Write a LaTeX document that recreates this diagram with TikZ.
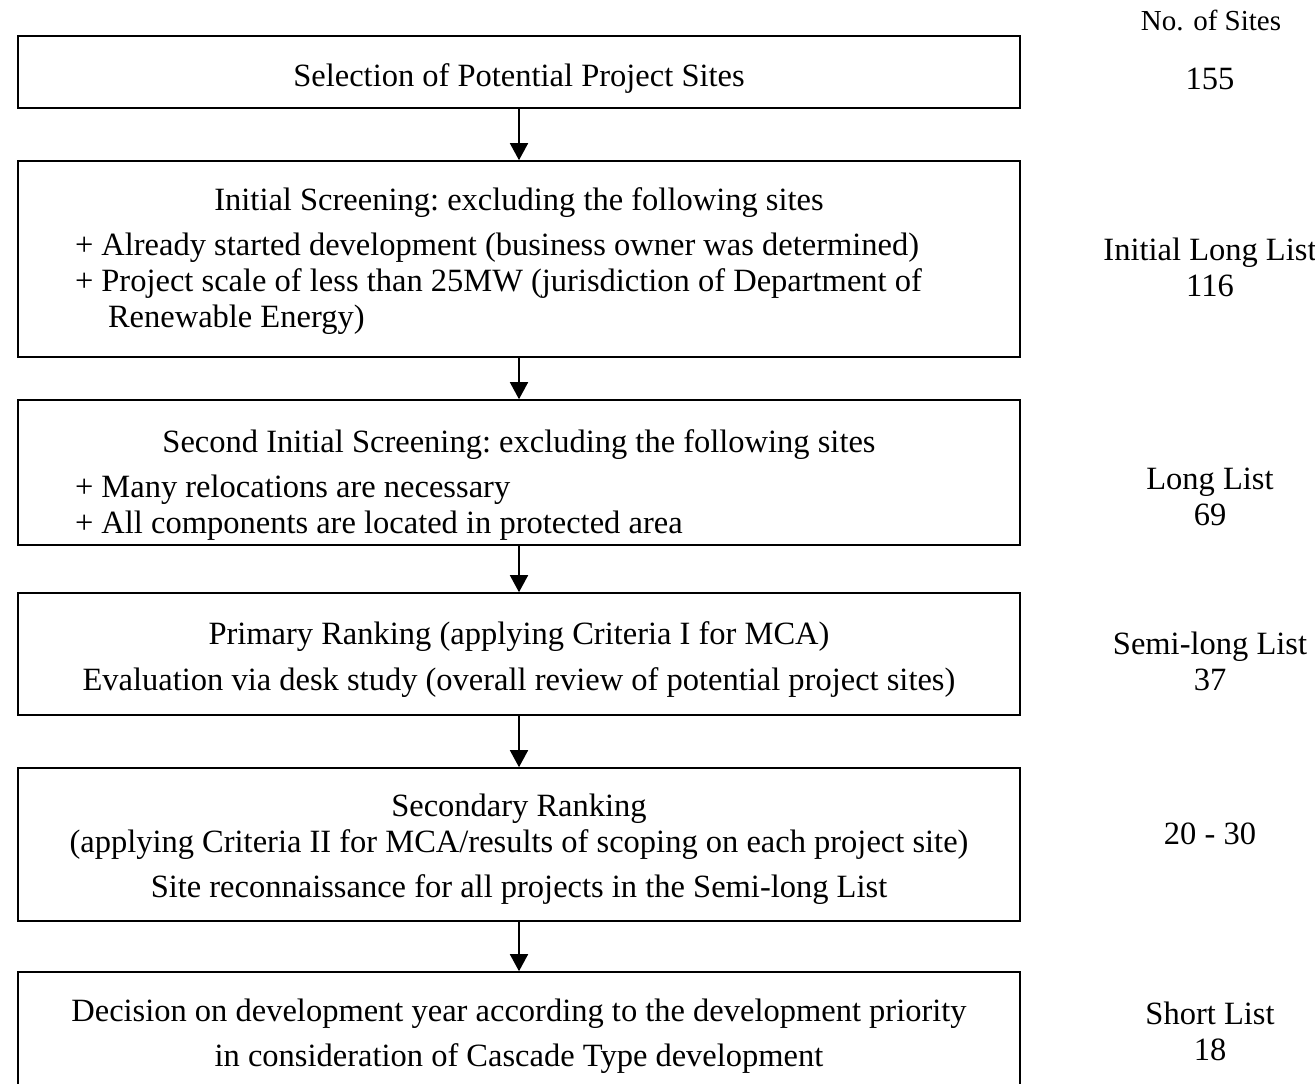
\documentclass[tikz,border=0pt]{standalone}
\usepackage{fontspec}
\setmainfont{Liberation Serif}
\usetikzlibrary{arrows.meta}
\tikzset{
  stepbox/.style={
    draw=black,
    line width=1.6pt,
    text width=1002pt,
    inner sep=0pt,
    align=flush center,
    font=\fontsize{32.5}{36}\selectfont\frenchspacing
  },
  listbox/.style={
    stepbox,
    text width=888pt,
    inner xsep=57pt,
    align=flush left
  },
  textdrop/.style={execute at begin node={\rule{0pt}{#1}}},
  sitecount/.style={align=center, inner sep=0pt, font=\fontsize{32.5}{36}\selectfont},
  flow/.style={line width=1.6pt, -{Triangle[length=17pt,width=18pt]}}
}
\newcommand{\steptitle}[1]{{\centering #1\par}\vspace{9pt}}

\begin{document}
\begin{tikzpicture}[x=1pt, y=-1pt]
  \useasboundingbox (0,0) rectangle (1315,1084);
  \clip (0,0) rectangle (1315,1084);
  % Steps of the screening
  \node[stepbox, textdrop=36.5pt, minimum height=72pt] (select) at (519,72) {Selection of Potential Project Sites};
  \node[listbox, textdrop=26.5pt, minimum height=196pt] (initial) at (519,259) {%
    \steptitle{Initial Screening: excluding the following sites}
    + Already started development (business owner was determined)\\
    + Project scale of less than 25MW (jurisdiction of Department of\\
    \hspace*{33pt}Renewable Energy)};
  \node[listbox, textdrop=48.5pt, minimum height=145pt] (second) at (519,472.5) {%
    \steptitle{Second Initial Screening: excluding the following sites}
    + Many relocations are necessary\\
    + All components are located in protected area};
  \node[stepbox, textdrop=34.5pt, minimum height=122pt] (primary) at (519,654) {%
    Primary Ranking (applying Criteria I for MCA)\\[10pt]
    Evaluation via desk study (overall review of potential project sites)};
  \node[stepbox, textdrop=32.5pt, minimum height=153pt] (secondary) at (519,844.5) {%
    Secondary Ranking\\
    (applying Criteria II for MCA/results of scoping on each project site)\\[9pt]
    Site reconnaissance for all projects in the Semi-long List};
  \node[stepbox, textdrop=26.5pt, minimum height=124pt] (decision) at (519,1034) {%
    Decision on development year according to the development priority\\[9pt]
    in consideration of Cascade Type development};
  % Arrows between steps
  \foreach \a/\b in {select/initial, initial/second, second/primary,
                     primary/secondary, secondary/decision} {
    \draw[flow] (\a.south) -- (\b.north);
  }
  % Number of sites
  \node[sitecount, font=\fontsize{29}{32}\selectfont] (head) at (1211,20) {No. of Sites};
  \node[sitecount] (n-select) at (1210,79) {155};
  \node[sitecount] (n-initial) at (1210,267) {Initial Long List\\116};
  \node[sitecount] (n-second) at (1210,497) {Long List\\69};
  \node[sitecount] (n-primary) at (1210,661) {Semi-long List\\37};
  \node[sitecount] (n-secondary) at (1210,834) {20 - 30};
  \node[sitecount] (n-decision) at (1210,1031) {Short List\\18};
\end{tikzpicture}
\end{document}
